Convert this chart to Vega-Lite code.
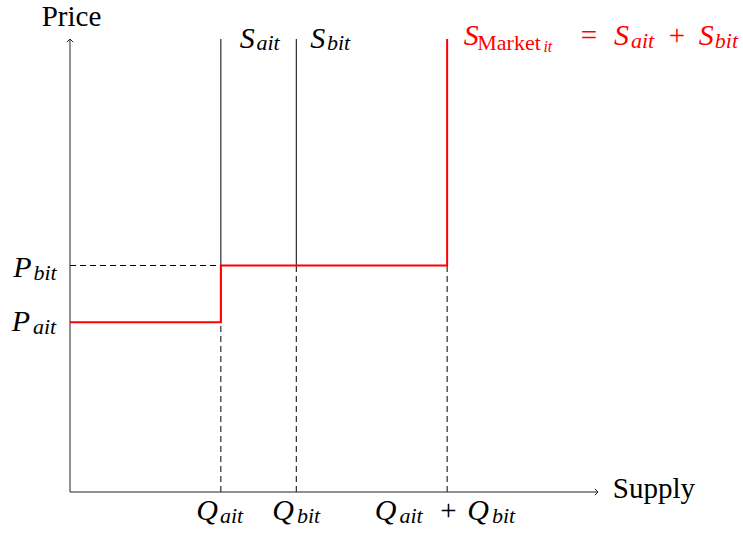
{
  "$schema": "https://vega.github.io/schema/vega-lite/v6.json",
  "width": 528,
  "height": 453,
  "autosize": "none",
  "padding": {"left": 70, "top": 39, "right": 145, "bottom": 46},
  "config": {"view": {"stroke": null}},
  "datasets": {
    "axes": [
      {"axis": "Supply", "x": 0, "y": 0, "x2": 7, "y2": 0},
      {"axis": "Price", "x": 0, "y": 0, "x2": 0, "y2": 6}
    ],
    "xTip": [{"x": 7, "y": 0}],
    "yTip": [{"x": 0, "y": 6}],
    "individual": [
      {"curve": "S_ait", "x": 2, "y": 2.25, "y2": 6},
      {"curve": "S_bit", "x": 3, "y": 3, "y2": 6}
    ],
    "guides": [
      {"x": 0, "y": 3, "x2": 2, "y2": 3},
      {"x": 2, "y": 0, "x2": 2, "y2": 2.25},
      {"x": 3, "y": 0, "x2": 3, "y2": 3},
      {"x": 5, "y": 0, "x2": 5, "y2": 3}
    ],
    "market": [
      {"step": 1, "x": 0, "y": 2.25},
      {"step": 2, "x": 2, "y": 2.25},
      {"step": 3, "x": 2, "y": 3},
      {"step": 4, "x": 5, "y": 3},
      {"step": 5, "x": 5, "y": 6}
    ],
    "mathBase": [
      {"text": "S", "x": 2.35, "y": 5.881, "curve": "other"},
      {"text": "S", "x": 3.285, "y": 5.881, "curve": "other"},
      {"text": "P", "x": -0.63, "y": 2.848, "curve": "other"},
      {"text": "P", "x": -0.65, "y": 2.132, "curve": "other"},
      {"text": "Q", "x": 1.816, "y": -0.371, "curve": "other"},
      {"text": "Q", "x": 2.824, "y": -0.371, "curve": "other"},
      {"text": "Q", "x": 4.183, "y": -0.371, "curve": "other"},
      {"text": "Q", "x": 5.409, "y": -0.371, "curve": "other"},
      {"text": "S", "x": 5.32, "y": 5.914, "curve": "market"},
      {"text": "S", "x": 7.31, "y": 5.914, "curve": "market"},
      {"text": "S", "x": 8.435, "y": 5.914, "curve": "market"}
    ],
    "mathSub": [
      {"text": "ait", "x": 2.625, "y": 5.854, "curve": "other"},
      {"text": "bit", "x": 3.56, "y": 5.854, "curve": "other"},
      {"text": "bit", "x": -0.331, "y": 2.808, "curve": "other"},
      {"text": "ait", "x": -0.338, "y": 2.093, "curve": "other"},
      {"text": "ait", "x": 2.141, "y": -0.411, "curve": "other"},
      {"text": "bit", "x": 3.162, "y": -0.411, "curve": "other"},
      {"text": "ait", "x": 4.521, "y": -0.411, "curve": "other"},
      {"text": "bit", "x": 5.747, "y": -0.411, "curve": "other"},
      {"text": "ait", "x": 7.59, "y": 5.881, "curve": "market"},
      {"text": "bit", "x": 8.703, "y": 5.881, "curve": "market"}
    ],
    "mathSubSub": [
      {"text": "it", "x": 6.335, "y": 5.828, "curve": "market"}
    ],
    "romanBase": [
      {"text": "Price", "x": 0.02, "y": 6.17, "curve": "other"},
      {"text": "Supply", "x": 7.742, "y": -0.079, "curve": "other"},
      {"text": "+", "x": 5.018, "y": -0.371, "curve": "other"},
      {"text": "=", "x": 6.881, "y": 5.914, "curve": "market"},
      {"text": "+", "x": 8.047, "y": 5.914, "curve": "market"}
    ],
    "romanSub": [
      {"text": "Market", "x": 5.82, "y": 5.854, "curve": "market"}
    ]
  },
  "encoding": {
    "x": {"field": "x", "type": "quantitative", "scale": {"domain": [0, 7], "nice": false, "zero": false}, "axis": null},
    "y": {"field": "y", "type": "quantitative", "scale": {"domain": [0, 6], "nice": false, "zero": false}, "axis": null}
  },
  "layer": [
    {
      "data": {"name": "guides"},
      "mark": {"type": "rule", "stroke": "black", "strokeWidth": 1, "strokeDash": [6, 4]},
      "encoding": {
        "x2": {"field": "x2"},
        "y2": {"field": "y2"}
      }
    },
    {
      "data": {"name": "axes"},
      "mark": {"type": "rule", "stroke": "#222222", "strokeWidth": 1},
      "encoding": {
        "x2": {"field": "x2"},
        "y2": {"field": "y2"}
      }
    },
    {
      "data": {"name": "xTip"},
      "mark": {"type": "point", "shape": "M-1,-1L0,0L-1,1", "filled": false, "stroke": "#222222", "strokeWidth": 1, "size": 40, "angle": 0, "opacity": 1}
    },
    {
      "data": {"name": "yTip"},
      "mark": {"type": "point", "shape": "M-1,-1L0,0L-1,1", "filled": false, "stroke": "#222222", "strokeWidth": 1, "size": 40, "angle": -90, "opacity": 1}
    },
    {
      "data": {"name": "individual"},
      "mark": {"type": "rule", "stroke": "black", "strokeWidth": 1},
      "encoding": {
        "y2": {"field": "y2"}
      }
    },
    {
      "data": {"name": "market"},
      "mark": {"type": "line", "stroke": "#ff0000", "strokeWidth": 2},
      "encoding": {
        "order": {"field": "step", "type": "quantitative"}
      }
    },
    {
      "data": {"name": "mathBase"},
      "mark": {"type": "text", "font": "Liberation Serif", "fontStyle": "italic", "fontSize": 30, "align": "center", "baseline": "alphabetic"},
      "encoding": {
        "text": {"field": "text"},
        "color": {"field": "curve", "type": "nominal", "scale": {"domain": ["other", "market"], "range": ["black", "#ff0000"]}, "legend": null}
      }
    },
    {
      "data": {"name": "mathSub"},
      "mark": {"type": "text", "font": "Liberation Serif", "fontStyle": "italic", "fontSize": 22, "align": "center", "baseline": "alphabetic"},
      "encoding": {
        "text": {"field": "text"},
        "color": {"field": "curve", "type": "nominal", "scale": {"domain": ["other", "market"], "range": ["black", "#ff0000"]}, "legend": null}
      }
    },
    {
      "data": {"name": "mathSubSub"},
      "mark": {"type": "text", "font": "Liberation Serif", "fontStyle": "italic", "fontSize": 16, "align": "center", "baseline": "alphabetic"},
      "encoding": {
        "text": {"field": "text"},
        "color": {"field": "curve", "type": "nominal", "scale": {"domain": ["other", "market"], "range": ["black", "#ff0000"]}, "legend": null}
      }
    },
    {
      "data": {"name": "romanBase"},
      "mark": {"type": "text", "font": "Liberation Serif", "fontSize": 29, "align": "center", "baseline": "alphabetic"},
      "encoding": {
        "text": {"field": "text"},
        "color": {"field": "curve", "type": "nominal", "scale": {"domain": ["other", "market"], "range": ["black", "#ff0000"]}, "legend": null}
      }
    },
    {
      "data": {"name": "romanSub"},
      "mark": {"type": "text", "font": "Liberation Serif", "fontSize": 22, "align": "center", "baseline": "alphabetic"},
      "encoding": {
        "text": {"field": "text"},
        "color": {"field": "curve", "type": "nominal", "scale": {"domain": ["other", "market"], "range": ["black", "#ff0000"]}, "legend": null}
      }
    }
  ]
}
